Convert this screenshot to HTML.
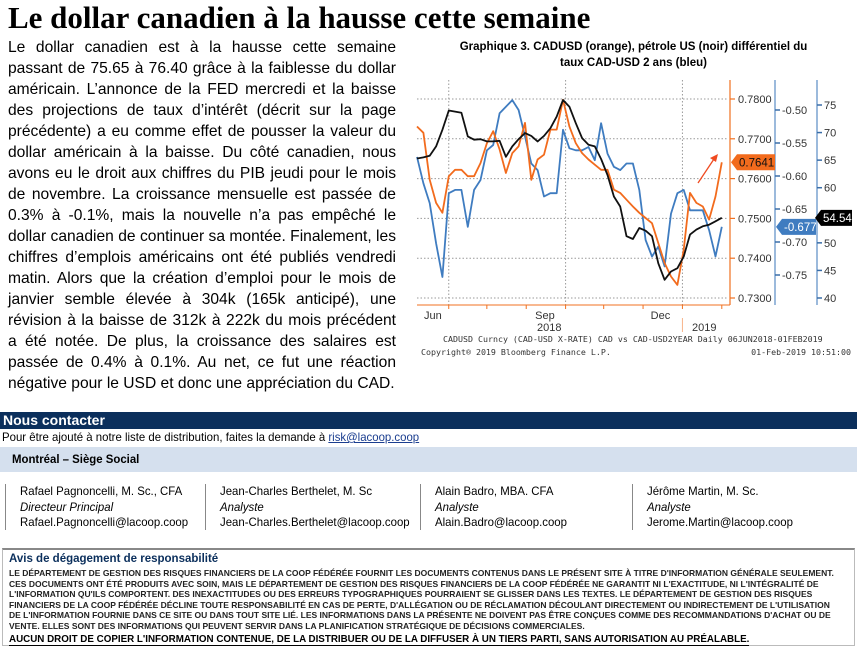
<!DOCTYPE html>
<html lang="fr"><head><meta charset="utf-8"><title>Le dollar canadien</title>
<style>
*{margin:0;padding:0;box-sizing:border-box}
body{width:857px;height:654px;background:#fff;position:relative;overflow:hidden;font-family:"Liberation Sans",Arial,sans-serif;color:#000}
.abs{position:absolute}
h1{position:absolute;left:8px;top:0px;font-family:"Liberation Serif",serif;font-weight:bold;font-size:31px;white-space:nowrap;line-height:36px}
#body{position:absolute;left:8px;top:37px;width:388px;font-size:15.6px;line-height:21px}
#body div{text-align:justify;text-align-last:justify;white-space:nowrap;overflow:visible}
#body div.l{text-align-last:left}
.ct{position:absolute;left:410px;width:447px;text-align:center;font-weight:bold;font-size:11.5px}
#contact{left:0;top:412px;width:857px;height:17px;background:#0b2f5c;color:#fff;font-weight:bold;font-size:14px;padding-left:3px;line-height:17px}
.narrow{transform:scaleX(0.95);transform-origin:0 0;white-space:nowrap}
#office{left:0;top:447px;width:857px;height:25px;background:#d5e0ee}
.col{position:absolute;top:484px;height:46px;border-left:1px solid #888;font-size:12px;line-height:15.5px;padding-left:14px}
#disc{left:2px;top:548px;width:853px;height:98px;border-top:2px solid #888;border-left:1px solid #bbb;border-right:1px solid #bbb;border-bottom:1px solid #bbb}
.dl{font-size:8.5px;font-weight:bold;color:#222;line-height:10.6px;height:10.6px;white-space:nowrap}
</style></head><body>
<h1>Le dollar canadien à la hausse cette semaine</h1>
<div id="body">
<div>Le dollar canadien est à la hausse cette semaine</div>
<div>passant de 75.65 à 76.40 grâce à la faiblesse du dollar</div>
<div>américain. L’annonce de la FED mercredi et la baisse</div>
<div>des projections de taux d’intérêt (décrit sur la page</div>
<div>précédente) a eu comme effet de pousser la valeur du</div>
<div>dollar américain à la baisse. Du côté canadien, nous</div>
<div>avons eu le droit aux chiffres du PIB jeudi pour le mois</div>
<div>de novembre. La croissance mensuelle est passée de</div>
<div>0.3% à -0.1%, mais la nouvelle n’a pas empêché le</div>
<div>dollar canadien de continuer sa montée. Finalement, les</div>
<div>chiffres d’emplois américains ont été publiés vendredi</div>
<div>matin. Alors que la création d’emploi pour le mois de</div>
<div>janvier semble élevée à 304k (165k anticipé), une</div>
<div>révision à la baisse de 312k à 222k du mois précédent</div>
<div>a été notée. De plus, la croissance des salaires est</div>
<div>passée de 0.4% à 0.1%. Au net, ce fut une réaction</div>
<div class="l">négative pour le USD et donc une appréciation du CAD.</div>
</div>
<div class="ct" style="top:41px">Graphique 3. CADUSD (orange), pétrole US (noir) différentiel du</div>
<div class="ct" style="top:57px">taux CAD-USD 2 ans (bleu)</div>
<svg class="abs" style="left:0;top:0" width="857" height="360" id="chart"></svg>

<div id="contact" class="abs">Nous contacter</div>
<div class="abs narrow" style="left:2px;top:430px;font-size:12px">Pour être ajouté à notre liste de distribution, faites la demande à <span style="color:#1a3d8f;text-decoration:underline">risk@lacoop.coop</span></div>
<div id="office" class="abs"><div class="narrow" style="position:absolute;left:12px;top:5px;font-weight:bold;font-size:12px">Montréal – Siège Social</div></div>
<div class="col" style="left:5px"><div class="narrow">Rafael Pagnoncelli, M. Sc., CFA<br><i>Directeur Principal</i><br><span>Rafael.Pagnoncelli@lacoop.coop</span></div></div>
<div class="col" style="left:205px"><div class="narrow">Jean-Charles Berthelet, M. Sc<br><i>Analyste</i><br><span>Jean-Charles.Berthelet@lacoop.coop</span></div></div>
<div class="col" style="left:420px"><div class="narrow">Alain Badro, MBA. CFA<br><i>Analyste</i><br><span>Alain.Badro@lacoop.coop</span></div></div>
<div class="col" style="left:632px"><div class="narrow">Jérôme Martin, M. Sc.<br><i>Analyste</i><br><span>Jerome.Martin@lacoop.coop</span></div></div>

<div id="disc" class="abs">
<div style="position:absolute;left:6px;top:3px;font-weight:bold;font-size:11.5px;color:#0b2f5c;white-space:nowrap">Avis de dégagement de responsabilité</div>
<div style="position:absolute;left:6px;top:18px">
<div class="dl">LE DÉPARTEMENT DE GESTION DES RISQUES FINANCIERS DE LA COOP FÉDÉRÉE FOURNIT LES DOCUMENTS CONTENUS DANS LE PRÉSENT SITE À TITRE D'INFORMATION GÉNÉRALE SEULEMENT.</div>
<div class="dl">CES DOCUMENTS ONT ÉTÉ PRODUITS AVEC SOIN, MAIS LE DÉPARTEMENT DE GESTION DES RISQUES FINANCIERS DE LA COOP FÉDÉRÉE NE GARANTIT NI L'EXACTITUDE, NI L'INTÉGRALITÉ DE</div>
<div class="dl">L'INFORMATION QU'ILS COMPORTENT. DES INEXACTITUDES OU DES ERREURS TYPOGRAPHIQUES POURRAIENT SE GLISSER DANS LES TEXTES.  LE DÉPARTEMENT DE GESTION DES RISQUES</div>
<div class="dl">FINANCIERS DE LA COOP FÉDÉRÉE DÉCLINE TOUTE RESPONSABILITÉ EN CAS DE PERTE, D'ALLÉGATION OU DE RÉCLAMATION DÉCOULANT DIRECTEMENT OU INDIRECTEMENT DE L'UTILISATION</div>
<div class="dl">DE L'INFORMATION FOURNIE DANS CE SITE OU DANS TOUT SITE LIÉ. LES INFORMATIONS DANS LA PRÉSENTE NE DOIVENT PAS ÊTRE CONÇUES COMME DES RECOMMANDATIONS D'ACHAT OU DE</div>
<div class="dl">VENTE. ELLES SONT DES INFORMATIONS QUI PEUVENT SERVIR DANS LA PLANIFICATION STRATÉGIQUE DE DÉCISIONS COMMERCIALES.</div>
</div>
<div style="position:absolute;left:6px;top:85px;font-size:9.8px;font-weight:bold;border-bottom:1px solid #000;line-height:10px;white-space:nowrap">AUCUN DROIT DE COPIER L'INFORMATION CONTENUE, DE LA DISTRIBUER OU DE LA DIFFUSER À UN TIERS PARTI, SANS AUTORISATION AU PRÉALABLE.</div>
</div>

<script>
const days = [0,5,10,15,20,25,30,35,40,45,50,55,60,65,70,75,80,85,90,95,100,105,110,115,120,125,130,135,140,145,150,155,160,165,170,175,180,185,190,195,200,205,210,215,220,225,230,235,240];
const cadusd = [.7731,.7715,.7597,.7539,.7514,.7606,.7622,.7622,.7606,.7606,.7639,.7689,.7719,.7673,.7614,.7664,.7681,.7740,.7597,.7648,.7660,.7723,.7723,.7798,.7731,.7689,.7664,.7648,.7635,.7622,.7622,.7572,.7564,.7547,.7530,.7514,.7501,.7488,.7438,.7388,.7354,.7333,.7421,.7564,.7539,.7530,.7497,.7555,.7641];
const rateDiff = [-.571,-.611,-.641,-.702,-.753,-.626,-.621,-.621,-.677,-.621,-.606,-.561,-.553,-.505,-.495,-.485,-.500,-.540,-.581,-.591,-.631,-.626,-.626,-.530,-.558,-.561,-.561,-.556,-.576,-.520,-.566,-.586,-.591,-.581,-.581,-.621,-.697,-.722,-.707,-.737,-.657,-.626,-.621,-.652,-.652,-.652,-.682,-.722,-.677];
const oil = [65.3,65.5,65.8,67.5,70.5,74,73.8,73.6,69.3,68.7,68.8,68.4,68.4,68.5,65.6,67.5,68.8,69.9,69.4,68.4,69.4,70.8,72.9,75.9,74.7,71.7,69,67.8,67.5,65.2,62.3,58.4,56.6,51.2,50.7,52.7,52.2,51.2,46.3,43.3,44.8,45.4,47.5,51.5,52.4,53,53.3,53.9,54.54];
const orangeTicks = [0.78,0.77,0.76,0.75,0.74,0.73];
const blueTicks = [-0.50,-0.55,-0.60,-0.65,-0.70,-0.75];
const oilTicks = [75,70,65,60,55,50,45,40];
const monthTickDays = [25,55,86,117,147,178,209,240];
const monthLabels = [["Jun",5.5],["Sep",93],["Dec",184]];
const gridDays = [25,117,209];

const X0=417,X1=728;
const xS=d=>X0+d*1.27;
const yO=v=>99+(0.78-v)*3980;
const yB=v=>110+(-0.5-v)*660;
const yK=v=>105+(75-v)*5.514;
const svg=document.getElementById('chart');
const NS='http://www.w3.org/2000/svg';
function mk(tag,attrs,txt){const e=document.createElementNS(NS,tag);for(const k in attrs)e.setAttribute(k,attrs[k]);if(txt!=null)e.textContent=txt;svg.appendChild(e);return e;}

orangeTicks.forEach(v=>{
  const g=mk('line',{x1:X0,x2:X1,y1:yO(v),y2:yO(v),stroke:'#999','stroke-dasharray':'1.5,2','stroke-width':1});
  
  
  const t=mk('line',{x1:730,x2:735,y1:yO(v),y2:yO(v),stroke:'#f07020','stroke-width':1.2});
  
  
  const l=mk('text',{x:738,y:yO(v)+4,'font-size':11,fill:'#333','font-family':'Liberation Sans, sans-serif'},v.toFixed(4));
  
  
});
gridDays.forEach(d=>{
  const g=mk('line',{x1:xS(d),x2:xS(d),y1:80,y2:305,stroke:'#999','stroke-dasharray':'1.5,2','stroke-width':1});
  
  
});
mk('line',{x1:X0,x2:730,y1:305,y2:305,stroke:'#f07020','stroke-width':1});
monthTickDays.forEach(d=>{
  const t=mk('line',{x1:xS(d),x2:xS(d),y1:305,y2:309,stroke:'#f07020','stroke-width':1});
  
  
});
monthLabels.forEach(([m,d])=>{
  const t=mk('text',{x:xS(d),y:319,'font-size':11,fill:'#333','font-family':'Liberation Sans, sans-serif'},m);
  
  
});
const y18=mk('text',{x:537,y:331,'font-size':11,fill:'#333','font-family':'Liberation Sans, sans-serif'},'2018');


const y19=mk('text',{x:692,y:331,'font-size':11,fill:'#333','font-family':'Liberation Sans, sans-serif'},'2019');


mk('line',{x1:xS(209),x2:xS(209),y1:318,y2:332,stroke:'#f7b48a','stroke-width':1});

const ao=mk('line',{x1:730,x2:730,y1:80,y2:305,stroke:'#f07020','stroke-width':1.2});


const ab=mk('line',{x1:775,x2:775,y1:80,y2:305,stroke:'#5b8cc4','stroke-width':1.2});


const ak=mk('line',{x1:817,x2:817,y1:80,y2:305,stroke:'#5b8cc4','stroke-width':1.2});


blueTicks.forEach(v=>{
  mk('line',{x1:775,x2:780,y1:yB(v),y2:yB(v),stroke:'#3a6ea8','stroke-width':1.5});
  const l=mk('text',{x:782,y:yB(v)+4,'font-size':11,fill:'#333','font-family':'Liberation Sans, sans-serif'},v.toFixed(2));
  
  
});
oilTicks.forEach(v=>{
  mk('line',{x1:817,x2:822,y1:yK(v),y2:yK(v),stroke:'#3a6ea8','stroke-width':1.5});
  const l=mk('text',{x:824,y:yK(v)+4,'font-size':11,fill:'#333','font-family':'Liberation Sans, sans-serif'},String(v));
  
  
});

function series(vals,ys,color,name){
  const d=vals.map((v,i)=>(i?'L':'M')+xS(days[i]).toFixed(1)+','+ys(v).toFixed(1)).join('');
  const p=mk('path',{d:d,fill:'none',stroke:color,'stroke-width':1.8,'stroke-linejoin':'round'});
  
  
}
series(rateDiff,yB,'#3f7cc0','rate-diff-line');
series(cadusd,yO,'#f26b1d','cadusd-line');
series(oil,yK,'#111','oil-line');

function badge(x,y,w,txt,bg,fg,name){
  const g=mk('path',{d:`M${x},${y}L${x+6},${y-8}L${x+w},${y-8}L${x+w},${y+8}L${x+6},${y+8}Z`,fill:bg});
  
  
  const t=mk('text',{x:x+8,y:y+4,'font-size':11.5,fill:fg,'font-family':'Liberation Sans, sans-serif'},txt);
  
  
}
const lastO=cadusd[cadusd.length-1],lastB=rateDiff[rateDiff.length-1],lastK=oil[oil.length-1];
badge(731,yO(lastO),44,lastO.toFixed(4),'#f26b1d','#111','cadusd-last-badge');
badge(776,yB(lastB),40,lastB.toFixed(3),'#3f7cc0','#fff','rate-diff-last-badge');
badge(815,yK(lastK),37,lastK.toFixed(2),'#000','#fff','oil-last-badge');
const arr=mk('line',{x1:698,y1:183,x2:714,y2:159,stroke:'#f04a20','stroke-width':1.3});


mk('path',{d:'M718,154L710,158L716,162Z',fill:'#f04a20'});

const f1=mk('text',{x:443,y:342,'font-size':8.3,fill:'#333','font-family':'DejaVu Sans Mono, monospace'},'CADUSD Curncy (CAD-USD X-RATE) CAD vs CAD-USD2YEAR  Daily 06JUN2018-01FEB2019');


const f2=mk('text',{x:421,y:355,'font-size':8.3,fill:'#333','font-family':'DejaVu Sans Mono, monospace'},'Copyright\u00ae 2019 Bloomberg Finance L.P.');


const f3=mk('text',{x:851,y:355,'font-size':8.3,fill:'#333','text-anchor':'end','font-family':'DejaVu Sans Mono, monospace'},'01-Feb-2019 10:51:00');


</script>
</body></html>
